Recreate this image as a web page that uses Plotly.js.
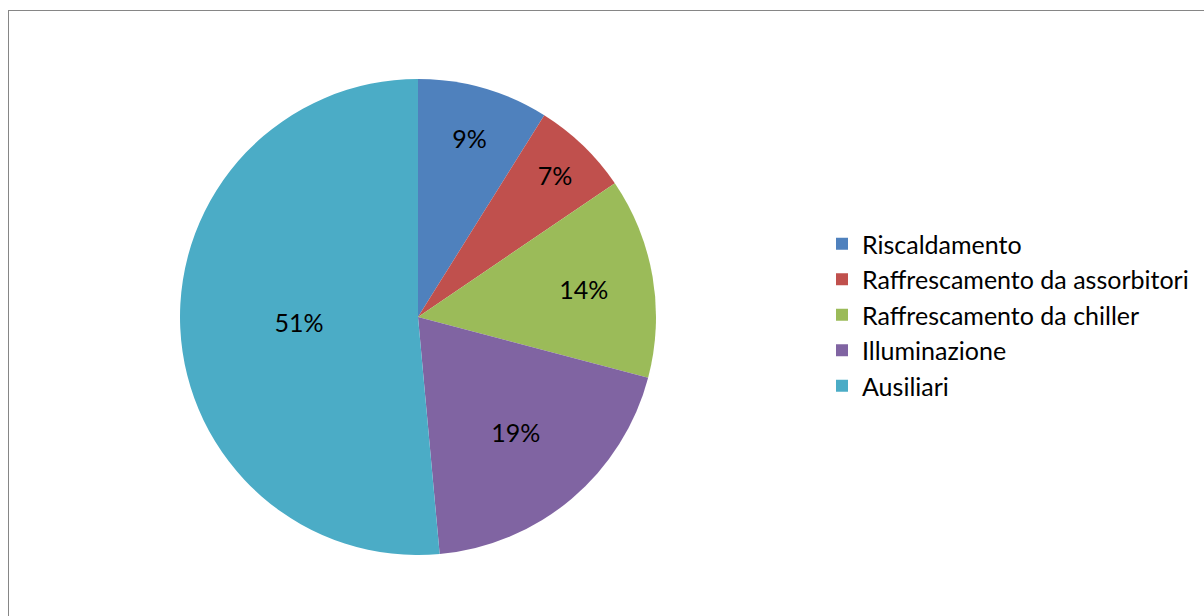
<!DOCTYPE html>
<html><head><meta charset="utf-8">
<script src="https://cdn.plot.ly/plotly-3.0.1.min.js"></script>
<style>
html,body{margin:0;padding:0;background:#fff;overflow:hidden;}
#frame{position:absolute;left:8px;top:10px;width:1300px;height:700px;border:1px solid #868686;box-sizing:border-box;pointer-events:none;z-index:5;}
#chart{position:absolute;left:0;top:0;width:1204px;height:616px;}
</style></head>
<body>
<div id="chart"></div><div id="frame"></div>
<script>
const categories = ["Riscaldamento","Raffrescamento da assorbitori","Raffrescamento da chiller","Illuminazione","Ausiliari"];
const values = [8.9, 6.6, 13.6, 19.45, 51.45];
const colors = ["#4f81bd","#c0504d","#9bbb59","#8064a2","#4bacc6"];

const W = 1204, H = 616, cx = 418, cy = 317, r = 238;
const trace = {
  type: 'pie', labels: categories, values: values, sort: false, direction: 'clockwise', rotation: 0,
  marker: {colors: colors, line: {color: '#ffffff', width: 0}},
  texttemplate: '%{percent:.0%}', textposition: 'inside', insidetextorientation: 'horizontal',
  textfont: {family: 'Lato, sans-serif', size: 25, color: '#000000'},
  hoverinfo: 'label+percent',
  domain: {x: [(cx - r) / W, (cx + r) / W], y: [(H - cy - r) / H, (H - cy + r) / H]}
};
const layout = {
  width: W, height: H, margin: {l: 0, r: 0, t: 0, b: 0},
  paper_bgcolor: '#ffffff', showlegend: true,
  legend: {x: 822 / W, y: (H - 315) / H, xanchor: 'left', yanchor: 'middle',
    font: {family: 'Lato, sans-serif', size: 25, color: '#000000'}, traceorder: 'normal'},
  font: {family: 'Lato, sans-serif'}
};
Plotly.newPlot('chart', [trace], layout, {displayModeBar: false, staticPlot: true});
</script>
</body></html>
